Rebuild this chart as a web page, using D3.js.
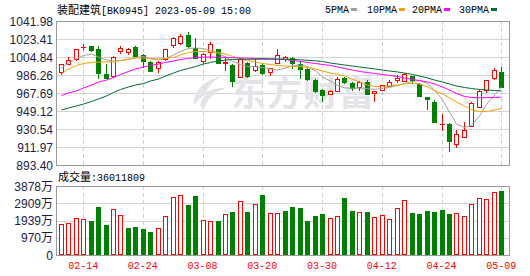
<!DOCTYPE html>
<html><head><meta charset="utf-8">
<script src="https://cdn.jsdelivr.net/npm/d3@7"></script>
<style>body{margin:0;background:#fff;} svg{display:block;}</style>
</head><body>
<svg id="c" width="530" height="276"></svg>
<script>
const dates = ["02-09","02-10","02-13","02-14","02-15","02-16","02-17","02-20","02-21","02-22","02-23","02-24","02-27","02-28",
"03-01","03-02","03-03","03-06","03-07","03-08","03-09","03-10","03-13","03-14","03-15","03-16","03-17","03-20","03-21","03-22","03-23","03-24","03-27","03-28","03-29","03-30","03-31",
"04-03","04-04","04-06","04-07","04-10","04-11","04-12","04-13","04-14","04-17","04-18","04-19","04-20","04-21","04-24","04-25","04-26","04-27","04-28",
"05-04","05-05","05-08","05-09"];
const opens = [989.0,998.1,1002.8,1015.0,1015.9,1013.1,987.3,985.2,1010.6,1010.0,1014.8,1006.9,1000.0,993.8,1002.5,1017.2,1018.9,1027.5,1014.4,1000.7,1010.3,1012.8,998.8,996.6,984.5,999.0,991.5,996.6,989.7,998.3,1002.8,1003.3,997.1,992.1,981.1,971.3,966.3,970.1,983.1,977.5,974.2,979.4,967.4,970.8,975.2,980.6,980.4,985.2,976.5,963.9,958.7,935.2,935.2,914.6,922.6,933.3,953.6,970.8,983.5,989.7];
const highs = [997.3,1005.2,1013.6,1018.3,1016.7,1016.2,997.3,1005.4,1016.5,1014.6,1015.7,1008.0,1001.2,1001.2,1013.6,1025.8,1028.3,1030.3,1024.8,1008.5,1020.6,1013.6,1004.8,998.1,1003.8,1000.0,1002.5,998.3,994.0,1012.8,1005.4,1004.5,1000.7,993.0,982.1,971.8,970.3,984.2,983.7,979.3,980.4,981.1,969.7,976.0,981.1,986.3,988.0,985.7,978.0,963.9,960.5,945.7,936.3,929.1,937.3,958.9,970.3,981.6,993.2,994.8];
const lows = [986.3,997.6,1000.2,1012.1,1010.5,981.8,981.8,982.7,1007.9,1006.4,1005.2,993.5,989.9,988.6,1000.7,1014.4,1017.7,1014.4,1002.5,997.1,1002.5,997.6,990.7,973.4,984.2,983.5,989.7,986.3,985.5,997.6,999.7,992.1,982.1,980.4,967.7,957.9,965.6,969.0,976.7,970.1,970.1,965.6,958.7,969.7,974.9,978.3,979.4,977.0,963.9,950.2,936.3,928.5,906.3,911.4,921.6,932.3,951.7,967.4,981.1,973.2];
const closes = [997.3,1001.7,1012.6,1015.2,1012.1,988.0,982.9,1004.5,1014.1,1012.6,1006.2,1000.7,990.7,999.4,1013.1,1024.1,1026.5,1016.2,1004.1,1007.9,1018.3,998.6,999.3,980.4,1002.5,985.2,995.6,988.0,993.2,1006.9,1005.2,998.3,992.0,981.8,969.4,966.1,969.7,981.8,979.0,972.5,978.7,966.7,969.7,976.0,979.4,982.7,987.3,981.1,964.6,961.2,937.5,935.7,918.2,925.1,929.5,957.1,969.7,981.1,991.1,974.2];
const volumes = [1742,1798,2060,2004,1910,2697,1686,2566,2248,1517,1573,1461,1292,1498,2191,3240,3371,2810,3315,1948,1892,1910,2304,2416,3016,2416,2847,3371,2341,2341,2472,2697,2641,1910,2191,2304,2060,2191,3222,2472,2397,2397,2116,2248,2004,2622,3072,2360,2304,2472,2397,2529,2304,2341,2191,2847,3184,3128,3521,3601.18];
const ma5 = [993.5,998.6,1003.3,1006.4,1007.9,1004.8,1001.7,1000.7,1001.2,1002.3,1004.3,1005.4,1002.8,1001.7,1003.3,1006.9,1010.5,1013.6,1014.1,1013.6,1011.5,1008.4,1004.8,1000.7,997.1,995.0,994.8,994.0,992.5,991.4,993.5,995.5,996.6,995.0,990.4,984.2,980.0,975.5,973.0,972.5,973.0,972.0,971.5,972.5,973.5,975.4,977.5,979.6,980.6,977.5,970.8,960.5,948.1,935.7,932.1,934.2,944.0,955.8,965.6,973.9];
const ma10 = [987.3,992.5,996.1,998.1,999.2,999.7,999.7,999.7,1001.2,1002.8,1003.8,1003.8,1003.3,1002.8,1003.3,1004.3,1006.9,1009.5,1010.5,1010.5,1010.0,1009.5,1007.9,1005.4,1003.3,1001.2,999.7,998.1,997.1,996.1,995.5,995.0,994.8,994.0,992.5,990.4,988.3,986.8,985.2,982.1,979.0,975.9,974.4,974.4,974.9,975.9,977.0,978.0,977.0,973.9,970.3,966.7,962.5,958.4,954.3,950.2,948.6,948.6,950.2,951.7];
const ma20 = [965.1,967.7,969.8,972.9,975.9,979.0,981.1,983.7,986.8,989.9,992.5,994.5,996.1,997.6,999.2,1000.7,1002.3,1003.3,1004.3,1004.8,1004.8,1004.6,1004.4,1004.2,1003.8,1003.6,1003.4,1003.3,1003.0,1002.8,1002.3,1001.2,1000.2,999.2,998.1,997.1,996.1,994.5,993.0,991.4,989.9,988.8,987.8,986.8,985.8,984.7,983.2,981.6,980.6,979.0,977.0,973.9,970.8,967.2,964.1,963.1,962.8,962.9,963.2,963.3];
const ma30 = [950.2,952.2,954.3,956.3,958.9,961.5,964.6,968.2,971.3,973.9,975.9,977.5,980.1,982.1,985.2,988.3,990.9,993.0,995.0,997.6,999.2,1000.7,1001.7,1002.3,1002.5,1002.5,1002.6,1002.6,1002.6,1002.6,1002.6,1002.3,1001.9,1001.4,1000.9,1000.2,998.6,997.6,996.6,995.5,994.5,993.5,992.5,991.4,990.4,989.4,988.3,986.8,985.2,983.2,981.1,979.0,977.0,974.9,973.4,972.3,971.3,970.8,970.3,969.8];
const priceTicks = [893.40,911.97,930.54,949.12,967.69,986.26,1004.84,1023.41,1041.98];
const volTicks = [0,969.5,1939,2908.5,3878];
const volTickLabels = ["0","970万","1939万","2909万","3878万"];
const xTickLabels = ["02-14","02-24","03-08","03-20","03-30","04-12","04-24","05-09"];
const maNames = ["5PMA","10PMA","20PMA","30PMA"];
const maColors = ["#a0a0a0","#f5a300","#ff00ff","#006b2e"];
const titleName = "装配建筑";
const titleRest = "[BK0945] 2023-05-09 15:00";
const volLabel = "成交量";
const volValue = ":36011809";

const RED = "#ff0000", GREEN = "#008000";
const svg = d3.select("#c");
const L = 56, R = 509, PT = 21, PB = 165, VT = 186, VB = 255;

const x = d3.scaleBand().domain(dates).range([57, 505]);
const cx = d => Math.round(x(d) + x.bandwidth() / 2);
const y = d3.scaleLinear().domain([893.40, 1041.98]).range([PB, PT]);
const yv = d3.scaleLinear().domain([0, 3878]).range([VB, VT]);

// horizontal grids
const g = svg.append("g").attr("shape-rendering", "crispEdges");
g.selectAll(".hp").data(priceTicks).join("line")
  .attr("x1", L).attr("x2", R).attr("y1", d => Math.round(y(d)) + 0.5).attr("y2", d => Math.round(y(d)) + 0.5)
  .attr("stroke", "#d4d4d4");
g.selectAll(".hv").data(volTicks).join("line")
  .attr("x1", L).attr("x2", R).attr("y1", d => Math.round(yv(d)) + 0.5).attr("y2", d => Math.round(yv(d)) + 0.5)
  .attr("stroke", "#d4d4d4");
// vertical dashed
xTickLabels.forEach(t => {
  [[PT, PB], [VT, VB]].forEach(([a, b]) => {
    g.append("line").attr("x1", cx(t) + 0.5).attr("x2", cx(t) + 0.5).attr("y1", a).attr("y2", b)
      .attr("stroke", "#cfcfcf").attr("stroke-dasharray", "4,3");
  });
});

// watermark
const wm = svg.append("g").attr("fill", "#e4e4e8");
wm.append("path").attr("d", "M222 76 C204 80 192 92 194 106 C196 101 202 96 208 94 C200 99 198 106 204 110 C206 100 214 92 226 88 C216 88 210 90 206 92 C210 84 216 79 222 76 Z");
wm.append("text").attr("x", 231).attr("y", 106).attr("font-family", "Noto Sans CJK SC").attr("font-weight", "bold")
  .attr("font-size", 35).attr("letter-spacing", 1).text("东方财富");

// candles
const cg = svg.append("g").attr("shape-rendering", "crispEdges");
dates.forEach((d, i) => {
  const c = cx(d);
  const up = closes[i] >= opens[i];
  const col = up ? RED : GREEN;
  const top = Math.round(y(Math.max(opens[i], closes[i])));
  const bot = Math.round(y(Math.min(opens[i], closes[i])));
  const hi = Math.round(y(highs[i])), lo = Math.round(y(lows[i]));
  if (up) {
    if (hi < top) cg.append("line").attr("x1", c + 0.5).attr("x2", c + 0.5).attr("y1", hi).attr("y2", top).attr("stroke", col);
    if (lo > bot) cg.append("line").attr("x1", c + 0.5).attr("x2", c + 0.5).attr("y1", bot).attr("y2", lo).attr("stroke", col);
    if (bot - top < 1) {
      cg.append("line").attr("x1", c - 2).attr("x2", c + 3).attr("y1", top + 0.5).attr("y2", top + 0.5).attr("stroke", col);
    } else {
      cg.append("rect").attr("x", c - 1.5).attr("y", top + 0.5).attr("width", 4).attr("height", bot - top)
        .attr("fill", "#fff").attr("stroke", col);
    }
  } else {
    cg.append("line").attr("x1", c + 0.5).attr("x2", c + 0.5).attr("y1", hi).attr("y2", lo).attr("stroke", col);
    cg.append("rect").attr("x", c - 2).attr("y", top).attr("width", 5).attr("height", Math.max(1, bot - top + 1)).attr("fill", col);
  }
});

// volume bars
dates.forEach((d, i) => {
  const c = cx(d);
  const up = i === 0 ? closes[0] >= opens[0] : closes[i] >= closes[i - 1];
  const t = Math.round(yv(volumes[i]));
  if (up) {
    cg.append("rect").attr("x", c - 1.5).attr("y", t + 0.5).attr("width", 4).attr("height", VB - t - 1)
      .attr("fill", "#fff").attr("stroke", RED);
  } else {
    cg.append("rect").attr("x", c - 2).attr("y", t).attr("width", 5).attr("height", VB - t).attr("fill", GREEN);
  }
});

// MA lines
[ma5, ma10, ma20, ma30].forEach((arr, k) => {
  const line = d3.line().x((v, i) => cx(dates[i]) + 0.5).y(v => y(v));
  svg.append("path").datum(arr).attr("d", line).attr("fill", "none")
    .attr("stroke", maColors[k]).attr("stroke-width", 1);
});

// borders
const bg = svg.append("g").attr("shape-rendering", "crispEdges").attr("fill", "none").attr("stroke", "#999");
bg.append("rect").attr("x", L + 0.5).attr("y", PT + 0.5).attr("width", R - L).attr("height", PB - PT);
bg.append("rect").attr("x", L + 0.5).attr("y", VT + 0.5).attr("width", R - L).attr("height", VB - VT);

// axes
const axY = svg.append("g").attr("transform", `translate(${L - 3},0)`)
  .call(d3.axisLeft(y).tickValues(priceTicks).tickFormat(d3.format(".2f")).tickSize(0));
axY.select(".domain").remove();
axY.selectAll("text").attr("x", 0).attr("dy", "0.34em").attr("fill", "#1c1c44")
  .attr("font-family", "Liberation Sans, Arial, sans-serif").attr("font-size", 12);

const axV = svg.append("g").attr("transform", `translate(${L - 3},0)`)
  .call(d3.axisLeft(yv).tickValues(volTicks).tickFormat((d, i) => volTickLabels[i]).tickSize(0));
axV.select(".domain").remove();
axV.selectAll("text").attr("x", 0).attr("dy", "0.34em").attr("fill", "#1c1c44")
  .attr("font-family", "Liberation Sans, Arial, 'Noto Sans CJK SC', sans-serif").attr("font-size", 12);

const axX = svg.append("g").attr("transform", `translate(0,${VB})`)
  .call(d3.axisBottom(x).tickValues(xTickLabels).tickSize(0));
axX.select(".domain").remove();
axX.selectAll("text").attr("y", 7).attr("dy", "0.71em").attr("fill", RED)
  .attr("font-family", "Liberation Mono, monospace").attr("font-size", 10);

// title
const tt = svg.append("text").attr("x", 57).attr("y", 13.5).attr("fill", "#000");
tt.append("tspan").attr("font-family", "Noto Sans CJK SC").attr("font-size", 11).text(titleName);
tt.append("tspan").attr("font-family", "Liberation Mono, monospace").attr("font-size", 10).text(titleRest);

// legend
const legX = [325, 367, 412, 459];
maNames.forEach((n, k) => {
  svg.append("text").attr("x", legX[k]).attr("y", 13).attr("font-family", "Liberation Mono, monospace")
    .attr("font-size", 10).attr("fill", "#000").text(n);
  svg.append("rect").attr("x", legX[k] + n.length * 6 + 2).attr("y", 8).attr("width", 6).attr("height", 3).attr("fill", maColors[k]);
});

// volume label
const vt = svg.append("text").attr("x", 58).attr("y", 181).attr("fill", "#000");
vt.append("tspan").attr("font-family", "Noto Sans CJK SC").attr("font-size", 11).text(volLabel);
vt.append("tspan").attr("font-family", "Liberation Mono, monospace").attr("font-size", 10).text(volValue);
</script>
</body></html>
